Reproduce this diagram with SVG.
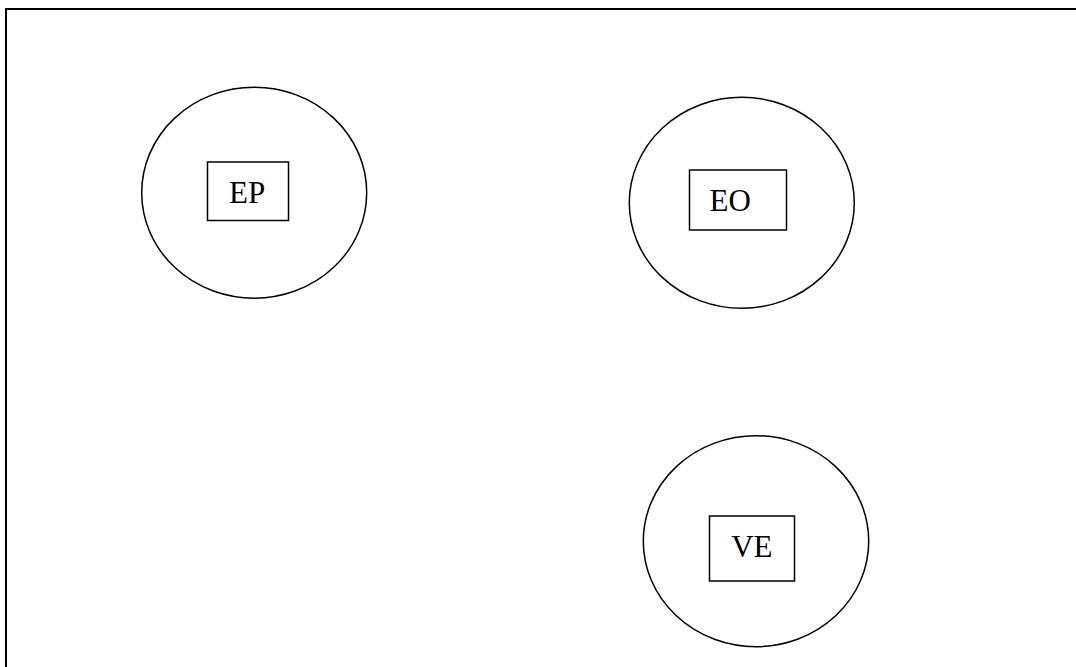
<svg xmlns="http://www.w3.org/2000/svg" width="1076" height="667" viewBox="0 0 1076 667">
<style>
.frame{fill:none;stroke:#000;stroke-width:2}
.circ{fill:#fff;stroke:#000;stroke-width:1.5}
.box{fill:#fff;stroke:#000;stroke-width:1.5}
.lbl{font-family:"Liberation Serif","Times New Roman",serif;font-size:31px;fill:#000}
</style>
<rect width="1076" height="667" fill="#fff"/>
<path class="frame" d="M6,670 V9 H1080"/>
<g id="connectors"></g>
<g id="EP">
<ellipse class="circ" cx="254.2" cy="192.7" rx="112.5" ry="105.5"/>
<rect class="box" x="207.5" y="162" width="81" height="58.5"/>
<text class="lbl" x="229" y="203.3">EP</text>
</g>
<g id="EO">
<ellipse class="circ" cx="741.8" cy="202.8" rx="112.5" ry="105.5"/>
<rect class="box" x="689.5" y="170" width="97" height="60"/>
<text class="lbl" x="709.5" y="211">EO</text>
</g>
<g id="VE">
<ellipse class="circ" cx="756" cy="541.2" rx="112.7" ry="105.5"/>
<rect class="box" x="709.5" y="516" width="85" height="65"/>
<text class="lbl" x="731.2" y="557.3">VE</text>
</g>
</svg>
